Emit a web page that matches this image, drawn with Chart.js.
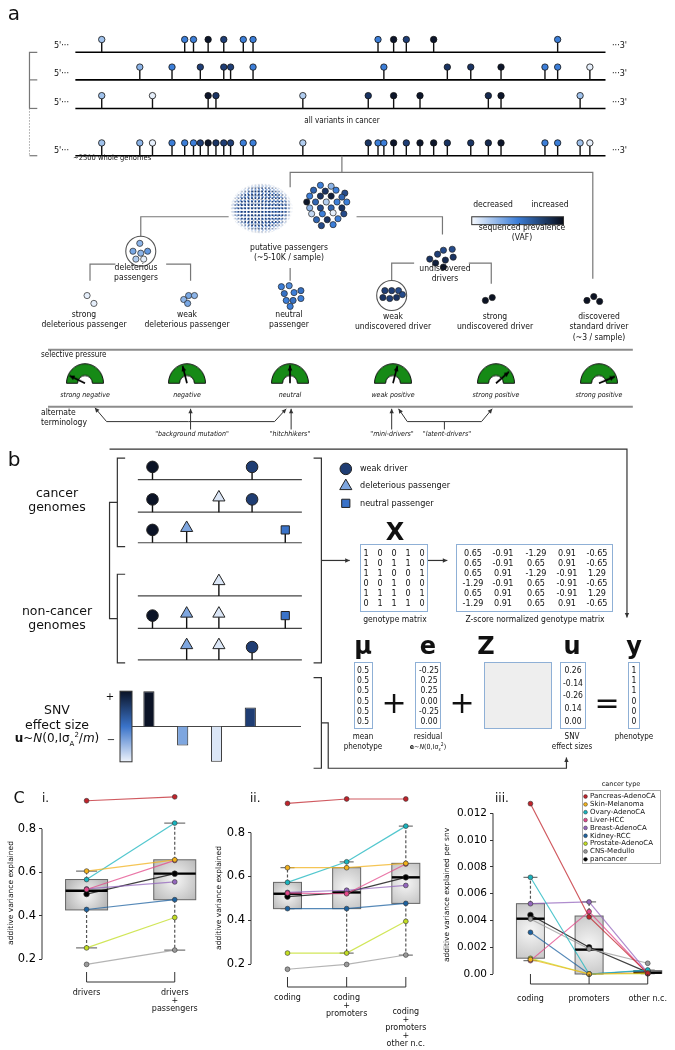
<!DOCTYPE html>
<html><head><meta charset="utf-8">
<script src="https://cdn.jsdelivr.net/npm/chart.js@4"></script>
<style>
body{margin:0;background:#fff;}
#page{position:relative;width:675px;height:1050px;overflow:hidden;font-family:"DejaVu Sans Condensed","Liberation Sans Narrow","DejaVu Sans",sans-serif;color:#111;}
canvas{position:absolute;}
.t{position:absolute;white-space:nowrap;line-height:1;}
.vec{position:absolute;border:1.5px solid #8fb0d6;box-sizing:border-box;}
#cloud{position:absolute;left:230px;top:183px;width:63px;height:51px;
 background-image:radial-gradient(circle,#1d3d78 0 0.8px,transparent 1.15px),radial-gradient(circle,#6d98d6 0 0.8px,transparent 1.15px),radial-gradient(circle,#9ea6b0 0 0.7px,transparent 1.05px);
 background-size:3.4px 3.4px,3.7px 3.7px,4.1px 4.1px;background-position:0 0,1.5px 1.2px,0.8px 2.3px;
 -webkit-mask-image:radial-gradient(ellipse 50% 50% at 50% 50%,#000 72%,transparent 100%);mask-image:radial-gradient(ellipse 50% 50% at 50% 50%,#000 72%,transparent 100%);}
</style></head><body><div id="page"><div id="cloud"></div></div>
<script>
// ---------- panel a: variants along four genomes (position, VAF shade 0..1)
const rowBaseY = [45, 73, 102, 150];
const row1Pos = [96,181,190,205,221,241,251,379,395,408,436,563];
const row1Vaf = [0.25,0.5,0.5,0.95,0.75,0.5,0.5,0.5,0.95,0.75,0.95,0.5];
const row2Pos = [135,168,197,221,228,251,385,450,474,505,550,563,596];
const row2Vaf = [0.3,0.5,0.75,0.75,0.75,0.5,0.5,0.8,0.8,0.95,0.5,0.5,0.05];
const row3Pos = [96,148,205,213,302,369,395,422,492,505,586];
const row3Vaf = [0.25,0.05,0.95,0.8,0.2,0.8,0.95,0.95,0.85,0.95,0.25];
const row4Pos = [96,135,148,168,181,190,197,205,213,221,228,241,251,302,369,379,385,395,408,422,436,450,474,492,505,550,563,586,596];
const row4Vaf = [0.25,0.3,0.05,0.5,0.5,0.5,0.75,0.95,0.8,0.75,0.75,0.5,0.5,0.2,0.8,0.5,0.5,0.95,0.75,0.95,0.95,0.8,0.8,0.85,0.95,0.5,0.5,0.25,0.05];

// small groups of variants in the classification tree [x, y, vaf]
const groupDots = [
 [320,180,.5],[331,181,.3],[313,185,.6],[325,186,.8],[336,185,.5],[345,188,.7],
 [309,191,.5],[320,191,.8],[331,191,.9],[342,192,.6],
 [306,197,.95],[315,197,.6],[326,197,.2],[337,197,.5],[347,197,.5],
 [309,203,.3],[320,203,.7],[331,203,.6],[342,203,.8],
 [311,209,.15],[322,209,.5],[333,208,.05],[344,209,.7],
 [316,215,.6],[327,215,.8],[338,214,.5],[321,221,.7],[333,220,.5],
 [135,239,.3],[128,247,.35],[136,249,.3],[143,247,.4],[131,255,.2],[139,255,.05],
 [81,292,.05],[88,300,.05],
 [180,296,.3],[185,292,.35],[191,292,.3],[184,300,.35],
 [280,283,.5],[288,282,.45],[283,290,.55],[293,289,.5],[300,287,.55],[285,297,.5],[292,297,.55],[300,295,.5],[289,303,.5],
 [432,255,.8],[440,250,.75],[446,246,.7],[455,245,.7],[438,259,.9],[448,256,.85],[456,253,.8],[446,263,.95],
 [386,287,.75],[393,287,.75],[400,287,.7],[384,294,.8],[391,295,.75],[398,294,.8],[404,291,.7],
 [489,297,.97],[496,294,.97],[593,297,.97],[600,293,.97],[606,298,.97]
];
const gaugeX = [85,187,290,393,496,599];
const gaugeAngles = [155,105,90,75,40,22];
const gaugeLabels = ['strong negative','negative','neutral','weak positive','strong positive','strong positive'];

// ---------- panel b
const genotype = [[1,0,0,1,0],[1,0,1,1,0],[1,1,0,0,1],[0,0,1,0,0],[1,1,1,0,1],[0,1,1,1,0]];
const zscore = [[0.65,-0.91,-1.29,0.91,-0.65],[0.65,-0.91,0.65,0.91,-0.65],[0.65,0.91,-1.29,-0.91,1.29],
                [-1.29,-0.91,0.65,-0.91,-0.65],[0.65,0.91,0.65,-0.91,1.29],[-1.29,0.91,0.65,0.91,-0.65]];
const snvColumnX = [148,183,216,250,284];
const snvRowBaseY = [479,512,543,597,630,662];
const snvStyles = ['circle','triangle','triangle','circle','rect'];
const snvColors = ['#0b1326','#7ea6df','#dbe6f6','#1f3d73','#3a73c9'];
const snvEffect = [0.26,-0.14,-0.26,0.14,0.00];
const meanPhenotype = ['0.5','0.5','0.5','0.5','0.5','0.5'];
const residual = ['-0.25','0.25','0.25','0.00','-0.25','0.00'];
const effectSizes = ['0.26','-0.14','-0.26','0.14','0.00'];
const phenotype = ['1','1','1','0','0','0'];

// ---------- panel c
const cancerTypes = ['Pancreas-AdenoCA','Skin-Melanoma','Ovary-AdenoCA','Liver-HCC','Breast-AdenoCA','Kidney-RCC','Prostate-AdenoCA','CNS-Medullo','pancancer'];
const typeColors = ['#c0232b','#f2b21c','#18b4be','#e3488a','#9467bd','#1d62a0','#c2dd22','#9b9b9b','#000000'];
const catsI = [['drivers'],['drivers','+','passengers']];
const iDrivers = [0.930,0.606,0.567,0.521,0.524,0.429,0.252,0.176,0.500];
const iDriversPassengers = [0.948,0.658,0.827,0.655,0.556,0.474,0.392,0.242,0.594];
const boxI = [[0.252,0.427,0.515,0.567,0.606],[0.242,0.474,0.594,0.658,0.827]];
const catsII = [['coding'],['coding','+','promoters'],['coding','+','promoters','+','other n.c.']];
const iiCoding = [0.934,0.640,0.573,0.524,0.527,0.453,0.250,0.176,0.508];
const iiCodingPromoters = [0.954,0.640,0.667,0.521,0.537,0.453,0.250,0.198,0.527];
const iiCodingPromotersOther = [0.954,0.660,0.830,0.657,0.559,0.477,0.395,0.241,0.596];
const boxII = [[0.453,0.453,0.521,0.573,0.640],[0.250,0.453,0.527,0.640,0.667],[0.241,0.477,0.596,0.660,0.830]];
const catsIII = [['coding'],['promoters'],['other n.c.']];
const iiiCoding = [0.01272,0.00108,0.00722,0.00100,0.00525,0.00311,0.00117,0.00411,0.00441];
const iiiPromoters = [0.00426,0.0,0.0,0.00466,0.00538,0.0,0.0,0.00187,0.00200];
const iiiOther = [0.00005,0.00008,0.00030,0.00002,0.00010,0.00025,0.00003,0.00080,0.00012];
const boxIII = [[0.0010,0.00118,0.00413,0.00525,0.00722],[0.0,0.0,0.00182,0.00433,0.00538],[0.00002,0.00005,0.0001,0.00025,0.0003]];
const ticksIandII = [0.2,0.4,0.6,0.8];
const tickLabelsIandII = ['0.2','0.4','0.6','0.8'];
const ticksIII = [0,0.002,0.004,0.006,0.008,0.010,0.012];
const tickLabelsIII = ['0.00','0.002','0.004','0.006','0.008','0.010','0.012'];

// ---------- helpers
const page = document.getElementById('page');
function makeCanvas(left, top, w, h){
  const c = document.createElement('canvas');
  c.width = w; c.height = h;
  Object.assign(c.style, {left:left+'px', top:top+'px', width:w+'px', height:h+'px'});
  page.appendChild(c); return c;
}
function txt(s, x, y, size, o={}){
  const d = document.createElement('div'); d.className = 't';
  if (o.html) d.innerHTML = s; else d.textContent = s;
  d.style.fontSize = size+'px'; d.style.left = x+'px'; d.style.top = y+'px';
  const ax = o.align==='left' ? '0' : o.align==='right' ? '-100%' : '-50%';
  d.style.transform = `translate(${ax},-50%)`;
  if (o.italic) d.style.fontStyle = 'italic';
  if (o.bold) d.style.fontWeight = 'bold';
  if (o.font) d.style.fontFamily = o.font;
  if (o.color) d.style.color = o.color;
  page.appendChild(d); return d;
}
function vafColor(v){
  const stops = [[0,[247,250,255]],[0.25,[160,194,236]],[0.5,[60,126,216]],[0.75,[31,62,118]],[1,[8,12,24]]];
  for (let i=1;i<stops.length;i++){
    if (v <= stops[i][0]){
      const [a,ca] = stops[i-1], [b,cb] = stops[i], f = (v-a)/(b-a);
      return `rgb(${ca.map((c,k)=>Math.round(c+(cb[k]-c)*f)).join(',')})`;
    }
  }
  return 'rgb(8,12,24)';
}
function rgba(hex, a){
  const n = parseInt(hex.slice(1),16);
  return `rgba(${n>>16},${(n>>8)&255},${n&255},${a})`;
}
function arrowHead(ctx, x1, y1, x2, y2, size){
  const a = Math.atan2(y2-y1, x2-x1);
  ctx.beginPath(); ctx.moveTo(x2,y2);
  ctx.lineTo(x2-size*Math.cos(a-0.45), y2-size*Math.sin(a-0.45));
  ctx.lineTo(x2-size*Math.cos(a+0.45), y2-size*Math.sin(a+0.45));
  ctx.closePath(); ctx.fill();
}
const quiet = {legend:{display:false}, tooltip:{enabled:false}};

// ---------- schematic guide lines (panels a and b)
const G = '#777', K = '#333';
const guideLines = [
  ...rowBaseY.map(y=>({p:[[69,y],[612,y]], c:'#000', w:1.6})),
  {p:[[30,45],[22,45],[22,102]], c:G, w:1.2},
  {p:[[22,102],[22,150]], c:G, w:1, dash:[1,2]},
  {p:[[22,73],[30,73]], c:G, w:1.2}, {p:[[22,102],[30,102]], c:G, w:1.2}, {p:[[22,150],[30,150]], c:G, w:1.2},
  {p:[[342,150],[342,167]], c:G, w:1.2},
  {p:[[289,182],[289,167],[599,167],[599,275]], c:G, w:1.2},
  {p:[[226,212],[136,212],[136,232]], c:G, w:1.2},
  {p:[[84,277],[84,260],[110,260]], c:G, w:1.2}, {p:[[162,260],[187,260],[187,277]], c:G, w:1.2},
  {p:[[289,264],[289,277]], c:G, w:1.2},
  {p:[[357,212],[445,212],[445,230]], c:G, w:1.2},
  {p:[[393,277],[393,259],[416,259]], c:G, w:1.2}, {p:[[472,259],[495,259],[495,280]], c:G, w:1.2},
  {p:[[41,347],[640,347]], c:'#8c8c8c', w:2}, {p:[[41,405],[640,405]], c:'#8c8c8c', w:2},
  {p:[[185,420],[101,420],[89,406]], c:K, w:1, arrow:true},
  {p:[[185,420],[273,420],[285,407]], c:K, w:1, arrow:true},
  {p:[[187,428],[187,407]], c:K, w:1, arrow:true}, {p:[[290,428],[290,407]], c:K, w:1, arrow:true},
  {p:[[393,428],[393,407]], c:K, w:1, arrow:true},
  {p:[[409,420],[400,407]], c:K, w:1, arrow:true},
  {p:[[409,420],[485,420],[496,407]], c:K, w:1, arrow:true}, {p:[[447,420],[447,428]], c:K, w:1},
  {p:[[104,448],[634,448],[634,619]], c:K, w:1.2, arrow:true},
  {p:[[120,457],[112,457],[112,547],[120,547]], c:K, w:1.2},
  {p:[[120,575],[112,575],[112,665],[120,665]], c:K, w:1.2},
  {p:[[112,502],[104,502],[104,620],[112,620]], c:K, w:1.2},
  {p:[[313,457],[321,457],[321,665],[313,665]], c:K, w:1.2},
  {p:[[321,561],[350,561]], c:K, w:1.2, arrow:true}, {p:[[430,561],[450,561]], c:K, w:1.2, arrow:true},
  ...snvRowBaseY.map(y=>({p:[[133,y],[301,y]], c:'#444', w:1.2})),
  {p:[[313,680],[321,680],[321,772],[313,772]], c:K, w:1.2},
  {p:[[321,726],[328,726],[328,772],[572,772],[572,761]], c:K, w:1.2, arrow:true}
];
const guideCircles = [[136,247,15],[393,292,15]];

const diagramPlugin = {
  id:'diagram',
  beforeDatasetsDraw(chart){
    const {ctx, scales:{x, y}} = chart;
    const X = v=>x.getPixelForValue(v), Y = v=>y.getPixelForValue(v);
    ctx.save();
    guideLines.forEach(l=>{
      ctx.strokeStyle = l.c; ctx.fillStyle = l.c; ctx.lineWidth = l.w; ctx.setLineDash(l.dash||[]);
      ctx.beginPath(); l.p.forEach(([a,b],i)=> i ? ctx.lineTo(X(a),Y(b)) : ctx.moveTo(X(a),Y(b))); ctx.stroke();
      if (l.arrow){ const n=l.p.length; ctx.setLineDash([]);
        arrowHead(ctx, X(l.p[n-2][0]), Y(l.p[n-2][1]), X(l.p[n-1][0]), Y(l.p[n-1][1]), 5); }
    });
    ctx.setLineDash([]);
    guideCircles.forEach(([a,b,r])=>{ ctx.strokeStyle='#555'; ctx.lineWidth=1.1; ctx.beginPath(); ctx.arc(X(a),Y(b),r,0,2*Math.PI); ctx.stroke(); });
    // VAF colour bar
    const g = ctx.createLinearGradient(X(475),0,X(569),0);
    g.addColorStop(0,'#f7faff'); g.addColorStop(0.5,'#3c7ed8'); g.addColorStop(1,'#080c18');
    ctx.fillStyle = g; ctx.fillRect(X(475),Y(212),X(569)-X(475),Y(220)-Y(212));
    ctx.strokeStyle='#333'; ctx.lineWidth=1; ctx.strokeRect(X(475),Y(212),X(569)-X(475),Y(220)-Y(212));
    // lollipop stems
    chart.data.datasets.forEach(ds=>{
      if (!ds.stem) return;
      ctx.strokeStyle = '#111'; ctx.lineWidth = 1.4;
      ds.data.forEach(p=>{ ctx.beginPath(); ctx.moveTo(X(p.x),Y(p.base)); ctx.lineTo(X(p.x),Y(p.y)); ctx.stroke(); });
    });
    ctx.restore();
  }
};

const rowsPos = [row1Pos,row2Pos,row3Pos,row4Pos], rowsVaf = [row1Vaf,row2Vaf,row3Vaf,row4Vaf];
const genomeHeads = [];
rowsPos.forEach((pos,r)=>pos.forEach((x,i)=>genomeHeads.push({x, y:rowBaseY[r]-13, base:rowBaseY[r], c:vafColor(rowsVaf[r][i])})));
const snvHeads = [];
genotype.forEach((row,r)=>row.forEach((g,j)=>{ if (g) snvHeads.push({x:snvColumnX[j], y:snvRowBaseY[r]-(snvStyles[j]==='triangle'?15:13), base:snvRowBaseY[r], s:snvStyles[j], c:snvColors[j], r:snvStyles[j]==='triangle'?7:5.8}); }));
const legendMarks = [0,1,4].map((j,k)=>({x:346, y:468+k*17.5, s:snvStyles[j], c:snvColors[j===0?3:j], r:snvStyles[j]==='triangle'?7:5.8}));

new Chart(makeCanvas(0,0,675,1050), {
  type:'scatter',
  data:{datasets:[
    {data:genomeHeads, stem:true, pointRadius:3.2, pointBackgroundColor:c=>c.raw.c, pointBorderColor:'#111', pointBorderWidth:0.8},
    {data:groupDots.map(([x,y,v])=>({x,y,c:vafColor(v)})), pointRadius:3.1, pointBackgroundColor:c=>c.raw.c, pointBorderColor:'#222', pointBorderWidth:0.7},
    {data:snvHeads, stem:true, pointStyle:c=>c.raw.s, pointRadius:c=>c.raw.r, pointBackgroundColor:c=>c.raw.c, pointBorderColor:'#222', pointBorderWidth:1},
    {data:legendMarks, pointStyle:c=>c.raw.s, pointRadius:c=>c.raw.r, pointBackgroundColor:c=>c.raw.c, pointBorderColor:'#222', pointBorderWidth:1}
  ]},
  options:{responsive:false, animation:false, events:[], clip:false, plugins:quiet,
    layout:{padding:0},
    scales:{x:{type:'linear',min:0,max:675,display:false}, y:{type:'linear',min:0,max:1050,reverse:true,display:false}}},
  plugins:[diagramPlugin]
});

// ---------- gauges
const needlePlugin = {
  id:'needle',
  afterDatasetsDraw(chart, args, opts){
    const arc = chart.getDatasetMeta(0).data[0]; const ctx = chart.ctx;
    const a = opts.angle*Math.PI/180, len = arc.outerRadius*0.92;
    const x2 = arc.x+len*Math.cos(a), y2 = arc.y-len*Math.sin(a);
    ctx.save(); ctx.strokeStyle='#000'; ctx.fillStyle='#000'; ctx.lineWidth=1.7;
    ctx.beginPath(); ctx.moveTo(arc.x,arc.y); ctx.lineTo(x2,y2); ctx.stroke();
    arrowHead(ctx, arc.x, arc.y, x2, y2, 5.5); ctx.restore();
  }
};
gaugeX.forEach((cx,i)=>{
  new Chart(makeCanvas(cx-19, 382-19, 38, 20.5), {
    type:'doughnut',
    data:{datasets:[{data:[1], backgroundColor:'#168a16', borderColor:'#111', borderWidth:1}]},
    options:{responsive:false, animation:false, events:[], rotation:-90, circumference:180, cutout:'40%',
      plugins:{...quiet, needle:{angle:gaugeAngles[i]}}},
    plugins:[needlePlugin]
  });
  txt(gaugeLabels[i], cx, 395, 7, {italic:true});
});

// ---------- SNV effect size bars
const snvPlugin = {
  id:'snvbase',
  beforeDatasetsDraw(chart){
    const {ctx, chartArea:a, scales:{y}} = chart;
    ctx.save();
    const top = y.getPixelForValue(0.26), bot = y.getPixelForValue(-0.26);
    const g = ctx.createLinearGradient(0,top,0,bot);
    g.addColorStop(0,'#0b1326'); g.addColorStop(0.5,'#3a73c9'); g.addColorStop(1,'#eef3fb');
    ctx.fillStyle = g; ctx.fillRect(10,top,12,bot-top);
    ctx.strokeStyle='#333'; ctx.lineWidth=1; ctx.strokeRect(10,top,12,bot-top);
    ctx.strokeStyle='#444'; ctx.lineWidth=1.2;
    ctx.beginPath(); ctx.moveTo(a.left,y.getPixelForValue(0)); ctx.lineTo(a.right,y.getPixelForValue(0)); ctx.stroke();
    ctx.restore();
  }
};
new Chart(makeCanvas(110,679,191,95), {
  type:'bar',
  data:{labels:snvColumnX.map(String), datasets:[{data:snvEffect, backgroundColor:snvColors, borderColor:'#222', borderWidth:1, barPercentage:0.33, categoryPercentage:1}]},
  options:{responsive:false, animation:false, events:[], plugins:quiet, layout:{padding:{left:22,right:0,top:0,bottom:0}},
    scales:{x:{display:false}, y:{display:false,min:-0.35,max:0.35}}},
  plugins:[snvPlugin]
});

// ---------- panel c charts
function variancePanel(cfg){
  const ppu = (cfg.catPx[cfg.catPx.length-1]-cfg.catPx[0])/(cfg.catPx.length-1);
  const xMin = -(cfg.catPx[0]-cfg.areaLeft)/ppu, xMax = (cfg.areaRight-cfg.catPx[0])/ppu;
  const ppv = (cfg.p2-cfg.p1)/(cfg.v1-cfg.v2);
  const areaTop = cfg.p1-(cfg.yMax-cfg.v1)*ppv, areaBottom = cfg.p1+(cfg.v1-cfg.yMin)*ppv;
  const top = 780, height = 270;
  const boxPlugin = {
    id:'boxes',
    beforeDatasetsDraw(chart){
      const {ctx, chartArea:a, scales:{x, y}} = chart;
      ctx.save();
      // left spine limited to tick range
      ctx.strokeStyle='#333'; ctx.lineWidth=1;
      ctx.beginPath(); ctx.moveTo(a.left, y.getPixelForValue(cfg.ticks[0])); ctx.lineTo(a.left, y.getPixelForValue(cfg.ticks[cfg.ticks.length-1])); ctx.stroke();
      cfg.box.forEach(([lo,q1,med,q3,hi],i)=>{
        const cx = x.getPixelForValue(i), h = cfg.half;
        const Y = v=>y.getPixelForValue(v);
        ctx.strokeStyle='#555'; ctx.lineWidth=1.2; ctx.setLineDash([3,2]);
        ctx.beginPath(); ctx.moveTo(cx,Y(q3)); ctx.lineTo(cx,Y(hi)); ctx.moveTo(cx,Y(q1)); ctx.lineTo(cx,Y(lo)); ctx.stroke();
        ctx.setLineDash([]); ctx.strokeStyle='#777'; ctx.lineWidth=1.2;
        ctx.beginPath(); ctx.moveTo(cx-h/2,Y(hi)); ctx.lineTo(cx+h/2,Y(hi)); ctx.moveTo(cx-h/2,Y(lo)); ctx.lineTo(cx+h/2,Y(lo)); ctx.stroke();
        const g = ctx.createRadialGradient(cx,(Y(q1)+Y(q3))/2,1,cx,(Y(q1)+Y(q3))/2,Math.max(h,(Y(q1)-Y(q3))/1.4));
        g.addColorStop(0,'#f4f4f4'); g.addColorStop(1,'#b9b9b9');
        ctx.fillStyle=g; ctx.fillRect(cx-h,Y(q3),2*h,Y(q1)-Y(q3));
        ctx.strokeStyle='#666'; ctx.lineWidth=1; ctx.strokeRect(cx-h,Y(q3),2*h,Y(q1)-Y(q3));
        ctx.strokeStyle='#000'; ctx.lineWidth=2.4;
        ctx.beginPath(); ctx.moveTo(cx-h,Y(med)); ctx.lineTo(cx+h,Y(med)); ctx.stroke();
      });
      ctx.restore();
    },
    afterDraw(chart){
      const {ctx, scales:{x}} = chart;
      ctx.save(); ctx.strokeStyle='#333'; ctx.lineWidth=1;
      const by = cfg.bracketY-top, x0 = x.getPixelForValue(0), x1 = x.getPixelForValue(cfg.cats.length-1);
      ctx.beginPath(); ctx.moveTo(x0,by); ctx.lineTo(x1,by);
      cfg.cats.forEach((c,i)=>{ const px = x.getPixelForValue(i); ctx.moveTo(px,by); ctx.lineTo(px,by-10); });
      ctx.stroke();
      ctx.fillStyle='#111'; ctx.font='8px "DejaVu Sans"'; ctx.textAlign='center'; ctx.textBaseline='middle';
      cfg.cats.forEach((lines,i)=>lines.forEach((s,k)=>ctx.fillText(s, x.getPixelForValue(i), cfg.labelY[i]-top+k*8)));
      ctx.font='7.5px "DejaVu Sans"';
      ctx.translate(cfg.titleX-cfg.left, cfg.titleY-top); ctx.rotate(-Math.PI/2); ctx.fillText(cfg.title,0,0);
      ctx.restore();
      if (cfg.legend) cfg.legend(chart);
    }
  };
  const datasets = cancerTypes.map((name,k)=>({
    label:name,
    data:cfg.series.map((col,i)=>({x:i, y:col[k]})),
    showLine:true, borderColor:rgba(typeColors[k],0.75), borderWidth:1.2,
    pointBackgroundColor:typeColors[k], pointBorderColor:'#333', pointBorderWidth:0.6,
    pointRadius:k===8?2.8:2.4
  }));
  return new Chart(makeCanvas(cfg.left, top, cfg.width, height), {
    type:'scatter',
    data:{datasets},
    options:{responsive:false, animation:false, events:[], clip:false, plugins:quiet,
      layout:{padding:{left:0, right:cfg.left+cfg.width-cfg.areaRight, top:areaTop-top, bottom:top+height-areaBottom}},
      scales:{
        x:{type:'linear', display:false, min:xMin, max:xMax},
        y:{type:'linear', min:cfg.yMin, max:cfg.yMax,
          afterFit:s=>{ s.width = cfg.areaLeft-cfg.left; },
          afterBuildTicks:s=>{ s.ticks = cfg.ticks.map(v=>({value:v})); },
          ticks:{callback:(v,i)=>cfg.tickLabels[i], color:'#000', padding:3, font:{family:'DejaVu Sans', size:cfg.tickSize}},
          grid:{drawOnChartArea:false, drawTicks:true, tickLength:3, color:'#333'},
          border:{display:false}}
      }},
    plugins:[boxPlugin]
  });
}

variancePanel({left:0, width:215, areaLeft:42, areaRight:212, catPx:[87,176], cats:catsI,
  v1:0.8, p1:827, v2:0.2, p2:959, yMin:0.14, yMax:0.98, ticks:ticksIandII, tickLabels:tickLabelsIandII, tickSize:11.5,
  series:[iDrivers,iDriversPassengers], box:boxI, half:21, bracketY:982, labelY:[993,993],
  title:'additive variance explained', titleX:11, titleY:893});
variancePanel({left:215, width:225, areaLeft:251, areaRight:438, catPx:[288,348,408], cats:catsII,
  v1:0.8, p1:832.7, v2:0.2, p2:964, yMin:0.14, yMax:0.98, ticks:ticksIandII, tickLabels:tickLabelsIandII, tickSize:11.5,
  series:[iiCoding,iiCodingPromoters,iiCodingPromotersOther], box:boxII, half:14, bracketY:987, labelY:[998,998,1012],
  title:'additive variance explained', titleX:219, titleY:898});
variancePanel({left:440, width:235, areaLeft:493, areaRight:673, catPx:[531,591,650], cats:catsIII,
  v1:0.012, p1:813.3, v2:0, p2:974, yMin:-0.0004, yMax:0.0132, ticks:ticksIII, tickLabels:tickLabelsIII, tickSize:10.5,
  series:[iiiCoding,iiiPromoters,iiiOther], box:boxIII, half:14, bracketY:984, labelY:[999,999,999],
  title:'additive variance explained per snv', titleX:447, titleY:895,
  legend:chart=>{
    const ctx = chart.ctx; ctx.save();
    ctx.fillStyle='#fff'; ctx.fillRect(142,10,78,73); ctx.strokeStyle='#aaa'; ctx.lineWidth=1; ctx.strokeRect(142.5,10.5,78,73);
    ctx.fillStyle='#111'; ctx.font='6.5px "DejaVu Sans"'; ctx.textAlign='center'; ctx.textBaseline='middle';
    ctx.fillText('cancer type',181,4.5);
    ctx.font='7px "DejaVu Sans"'; ctx.textAlign='left';
    cancerTypes.forEach((n,k)=>{
      const yy = 16.5+k*7.85;
      ctx.beginPath(); ctx.arc(145.5,yy,1.9,0,2*Math.PI); ctx.fillStyle=typeColors[k]; ctx.fill();
      ctx.strokeStyle='#333'; ctx.lineWidth=0.5; ctx.stroke();
      ctx.fillStyle='#111'; ctx.fillText(n,150,yy);
    });
    ctx.restore();
  }});

// ---------- text labels, panel a
txt('a',14,13,20,{font:'DejaVu Sans'});
rowBaseY.forEach(y=>{ txt("5'···",69,y,9,{align:'right'}); txt("···3'",612,y,9,{align:'left'}); });
txt('all variants in cancer',342,121,8);
txt('~2500 whole genomes',73,158,7.5,{align:'left'});
txt('putative passengers',289,247,8.5); txt('(~5-10K / sample)',289,257,8.5);
txt('deleterious',136,267,8.5); txt('passengers',136,277,8.5);
txt('strong',84,314,8.5); txt('deleterious passenger',84,324,8.5);
txt('weak',187,314,8.5); txt('deleterious passenger',187,324,8.5);
txt('neutral',289,314,8.5); txt('passenger',289,324,8.5);
txt('undiscovered',445,268,8.5); txt('drivers',445,278,8.5);
txt('weak',393,316,8.5); txt('undiscovered driver',393,326,8.5);
txt('strong',495,316,8.5); txt('undiscovered driver',495,326,8.5);
txt('discovered',599,316,8.5); txt('standard driver',599,326,8.5); txt('(~3 / sample)',599,337,8.5);
txt('decreased',493,204,8.5); txt('increased',550,204,8.5);
txt('sequenced prevalence',522,227,8.5); txt('(VAF)',522,237,8.5);
txt('selective pressure',41,355,8,{align:'left'});
txt('alternate',41,412,8.5,{align:'left'}); txt('terminology',41,422,8.5,{align:'left'});
txt('"background mutation"',192,434,7,{italic:true}); txt('"hitchhikers"',290,434,7,{italic:true});
txt('"mini-drivers"',392,434,7,{italic:true}); txt('"latent-drivers"',447,434,7,{italic:true});

// ---------- text labels, panel b
txt('b',14,459,20,{font:'DejaVu Sans'});
txt('cancer',57,493,12.5,{font:'DejaVu Sans'}); txt('genomes',57,507,12.5,{font:'DejaVu Sans'});
txt('non-cancer',57,611,12.5,{font:'DejaVu Sans'}); txt('genomes',57,625,12.5,{font:'DejaVu Sans'});
txt('weak driver',360,468,9,{align:'left'}); txt('deleterious passenger',360,485,9,{align:'left'}); txt('neutral passenger',360,503,9,{align:'left'});
txt('X',395,532,24,{bold:true,font:'DejaVu Sans'});
const boxDiv = (l,t,w,h,bg)=>{ const d=document.createElement('div'); d.className='vec'; Object.assign(d.style,{left:l+'px',top:t+'px',width:w+'px',height:h+'px',background:bg||'transparent'}); page.appendChild(d); };
boxDiv(360,544,68,68); boxDiv(456,544,157,68);
genotype.forEach((row,r)=>row.forEach((v,j)=>txt(String(v),366+j*14,553+r*10,9)));
zscore.forEach((row,r)=>row.forEach((v,j)=>txt(v.toFixed(2),[473,503,536,567,597][j],553+r*10,9)));
txt('genotype matrix',395,619,8.5); txt('Z-score normalized genotype matrix',535,619,8.5);
[['μ',363],['e',428],['Z',486],['u',572],['y',634]].forEach(([s,x])=>txt(s,x,646,24,{bold:true,font:'DejaVu Sans'}));
boxDiv(354,662,19,67); boxDiv(415,662,26,67); boxDiv(484,662,68,67,'#eeeeee'); boxDiv(560,662,26,67); boxDiv(628,662,12,67);
meanPhenotype.forEach((s,i)=>txt(s,363,670+i*10.2,8.5));
residual.forEach((s,i)=>txt(s,429,670+i*10.2,8.5));
effectSizes.forEach((s,i)=>txt(s,573,670+i*12.7,8.5));
phenotype.forEach((s,i)=>txt(s,634,670+i*10.2,8.5));
txt('+',394,703,30,{font:'DejaVu Sans'}); txt('+',462,703,30,{font:'DejaVu Sans'}); txt('=',607,703,30,{font:'DejaVu Sans'});
txt('mean',363,737,8); txt('phenotype',363,747,8);
txt('residual',428,737,8); txt('<b>e</b>~<i>N</i>(0,Iσ<sub style="font-size:5px">ε</sub><sup style="font-size:5px">2</sup>)',428,747,7,{html:true});
txt('SNV',572,737,8); txt('effect sizes',572,747,8); txt('phenotype',634,737,8);
txt('SNV',57,710,12.5,{font:'DejaVu Sans'}); txt('effect size',57,725,12.5,{font:'DejaVu Sans'});
txt('<b>u</b>~<i>N</i>(0,Iσ<sub style="font-size:7px">A</sub><sup style="font-size:7px">2</sup>/<i>m</i>)',57,740,12,{html:true,font:'DejaVu Sans'});
txt('+',110,697,10,{font:'DejaVu Sans'}); txt('−',111,740,10,{font:'DejaVu Sans'});

// ---------- panel c titles
txt('C',19,798,16,{font:'DejaVu Sans'}); txt('i.',42,798,12,{font:'DejaVu Sans',align:'left'});
txt('ii.',250,798,12,{font:'DejaVu Sans',align:'left'}); txt('iii.',495,798,12,{font:'DejaVu Sans',align:'left'});
</script></body></html>
